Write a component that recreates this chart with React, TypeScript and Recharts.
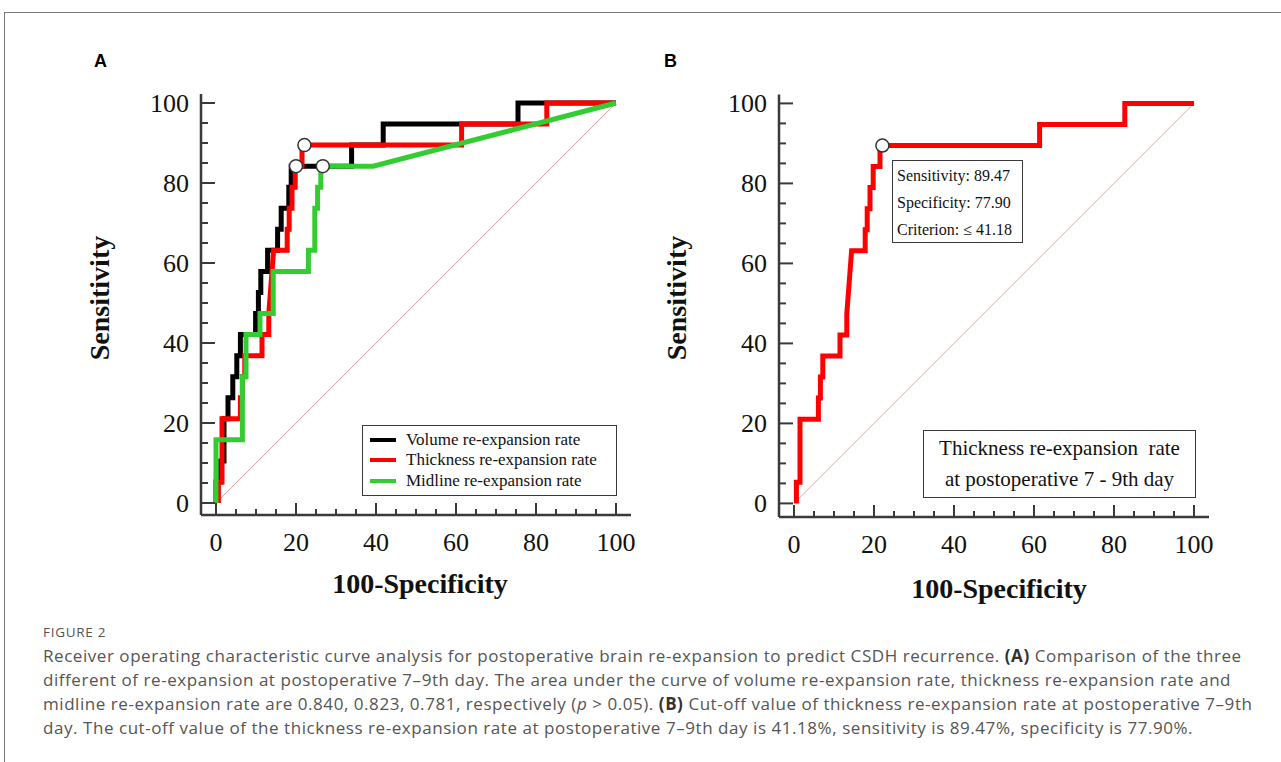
import { LineChart, Line, XAxis, YAxis, ReferenceLine, ReferenceDot, Legend } from 'recharts';

// ROC curves: [100-Specificity, Sensitivity]
const volumeCurve: [number, number][] = [
  [0, 0], [0, 5.26], [1.2, 5.26], [1.2, 10.53], [2.0, 10.53], [2.0, 21.05], [3.0, 21.05], [3.0, 26.32],
  [4.2, 26.32], [4.2, 31.58], [5.2, 31.58], [5.2, 36.84], [6.1, 36.84], [6.1, 42.11], [9.9, 42.11],
  [9.9, 47.37], [10.6, 47.37], [10.6, 52.63], [11.2, 52.63], [11.2, 57.89], [12.9, 57.89], [12.9, 63.16],
  [15.4, 63.16], [15.4, 68.42], [16.3, 68.42], [16.3, 73.68], [18.2, 73.68], [18.2, 78.95], [18.8, 78.95],
  [18.8, 84.21], [33.9, 84.21], [33.9, 89.47], [41.8, 89.47], [41.8, 94.74], [75.5, 94.74], [75.5, 100], [100, 100],
];

const thicknessCurve: [number, number][] = [
  [0.6, 0], [0.6, 5.26], [1.5, 5.26], [1.5, 21.05], [6.1, 21.05], [6.1, 26.32], [6.6, 26.32], [6.6, 31.58],
  [7.2, 31.58], [7.2, 36.84], [11.5, 36.84], [11.5, 42.11], [13.2, 42.11], [13.2, 47.37], [14.4, 63.16],
  [17.8, 63.16], [17.8, 68.42], [18.3, 68.42], [18.3, 73.68], [19.0, 73.68], [19.0, 78.95], [19.8, 78.95],
  [19.8, 84.21], [21.5, 84.21], [21.5, 89.47], [61.4, 89.47], [61.4, 94.74], [82.7, 94.74], [82.7, 100], [100, 100],
];

const midlineCurve: [number, number][] = [
  [0, 0], [0, 15.79], [6.6, 15.79], [6.6, 31.58], [7.5, 31.58], [7.5, 42.11], [11.0, 42.11], [11.0, 47.37],
  [14.3, 47.37], [14.3, 57.89], [23.1, 57.89], [23.1, 63.16], [24.7, 63.16], [24.7, 73.68], [25.4, 73.68],
  [25.4, 78.95], [26.2, 78.95], [26.2, 84.21], [39.3, 84.21], [100, 100],
];

// cut-off points (circles)
const cutoffsA = [
  { x: 20.0, y: 84.21 },
  { x: 22.1, y: 89.47 },
  { x: 26.7, y: 84.21 },
];
const cutoffB = { x: 22.1, y: 89.47 };

const seriesNames = ['Volume re-expansion rate', 'Thickness re-expansion rate', 'Midline re-expansion rate'];
const seriesColors = ['#000000', '#ff0000', '#33cc33'];

const axisTicks = [0, 5, 10, 15, 20, 25, 30, 35, 40, 45, 50, 55, 60, 65, 70, 75, 80, 85, 90, 95, 100];

const statsLines = ['Sensitivity: 89.47', 'Specificity: 77.90', 'Criterion: \u2264 41.18'];
const panelBNote = ['Thickness re-expansion\u00a0 rate', 'at postoperative 7 - 9th day'];

const captionLines = [
  [{ t: 'Receiver operating characteristic curve analysis for postoperative brain re-expansion to predict CSDH recurrence. ' }, { t: '(A)', b: true }, { t: ' Comparison of the three' }],
  [{ t: 'different of re-expansion at postoperative 7\u20139th day. The area under the curve of volume re-expansion rate, thickness re-expansion rate and' }],
  [{ t: 'midline re-expansion rate are 0.840, 0.823, 0.781, respectively (' }, { t: 'p', i: true }, { t: ' > 0.05). ' }, { t: '(B)', b: true }, { t: ' Cut-off value of thickness re-expansion rate at postoperative 7\u20139th' }],
  [{ t: 'day. The cut-off value of the thickness re-expansion rate at postoperative 7\u20139th day is 41.18%, sensitivity is 89.47%, specificity is 77.90%.' }],
];

const toPoints = (c: [number, number][]) => c.map(([x, y]) => ({ x, y }));

const AXIS = '#3a3a3a';
const SERIF = '"Liberation Serif", "Times New Roman", serif';

const YTick = (props: any) => {
  const { x, y, payload } = props;
  const major = payload.value % 20 === 0;
  return (
    <g>
      <line x1={x} y1={y} x2={x + (major ? 14 : 7)} y2={y} stroke={AXIS} strokeWidth={2} />
      {major && (
        <text x={x - 12} y={y + 9} textAnchor="end" fontFamily={SERIF} fontSize={26} fill="#111">
          {payload.value}
        </text>
      )}
    </g>
  );
};

const XTick = (props: any) => {
  const { x, y, payload } = props;
  const major = payload.value % 20 === 0;
  return (
    <g>
      <line x1={x} y1={y} x2={x} y2={y - (major ? 12 : 6)} stroke={AXIS} strokeWidth={2} />
      {major && (
        <text x={x} y={y + 36} textAnchor="middle" fontFamily={SERIF} fontSize={26} fill="#111">
          {payload.value}
        </text>
      )}
    </g>
  );
};

const renderLegend = () => (
  <div style={{ border: `1.5px solid ${AXIS}`, width: 255, height: 71, padding: '4px 0 0 0', boxSizing: 'border-box', background: '#fff' }}>
    {seriesNames.map((n, i) => (
      <div key={n} style={{ display: 'flex', alignItems: 'center', height: 20.3, fontFamily: SERIF, fontSize: 17, color: '#111' }}>
        <span style={{ display: 'inline-block', width: 26, height: 4, background: seriesColors[i], marginLeft: 7, marginRight: 10 }} />
        {n}
      </div>
    ))}
  </div>
);

const axisTitle: React.CSSProperties = {
  position: 'absolute', fontFamily: SERIF, fontWeight: 700, fontSize: 28, color: '#111', whiteSpace: 'nowrap',
};

function PanelA() {
  return (
    <LineChart width={640} height={620} margin={{ top: 94, left: 141, right: 9, bottom: 65 }}>
      <XAxis type="number" dataKey="x" domain={[-3.75, 103.75]} ticks={axisTicks} interval={0} allowDataOverflow
        tickSize={0} tickMargin={0} tickLine={false} tick={<XTick />} height={40}
        axisLine={{ stroke: AXIS, strokeWidth: 2.5 }} />
      <YAxis type="number" dataKey="y" domain={[-3, 102.25]} ticks={axisTicks} interval={0} allowDataOverflow
        tickSize={0} tickMargin={0} tickLine={false} tick={<YTick />} width={60}
        axisLine={{ stroke: AXIS, strokeWidth: 2.5 }} />
      <ReferenceLine segment={[{ x: 0, y: 0 }, { x: 100, y: 100 }]} stroke="#dca6a6" strokeWidth={1} />
      {[volumeCurve, thicknessCurve, midlineCurve].map((c, i) => (
        <Line key={seriesNames[i]} data={toPoints(c)} dataKey="y" name={seriesNames[i]} type="linear"
          stroke={seriesColors[i]} strokeWidth={5} strokeLinejoin="miter" dot={false} activeDot={false}
          isAnimationActive={false} />
      ))}
      {cutoffsA.map((p, i) => (
        <ReferenceDot key={i} x={p.x} y={p.y} r={6.5} fill="#fff" stroke="#333" strokeWidth={1.5} />
      ))}
      <Legend content={renderLegend} layout="vertical" align="center" verticalAlign="middle"
        wrapperStyle={{ left: 362, top: 425, width: 255, height: 71 }} />
    </LineChart>
  );
}

function PanelB() {
  return (
    <LineChart width={641} height={620} margin={{ top: 94.4, left: 79, right: 72, bottom: 63 }}>
      <XAxis type="number" dataKey="x" domain={[-3.75, 103.75]} ticks={axisTicks} interval={0} allowDataOverflow
        tickSize={0} tickMargin={0} tickLine={false} tick={<XTick />} height={40}
        axisLine={{ stroke: AXIS, strokeWidth: 2.5 }} />
      <YAxis type="number" dataKey="y" domain={[-3.4, 102.25]} ticks={axisTicks} interval={0} allowDataOverflow
        tickSize={0} tickMargin={0} tickLine={false} tick={<YTick />} width={60}
        axisLine={{ stroke: AXIS, strokeWidth: 2.5 }} />
      <ReferenceLine segment={[{ x: 0, y: 0 }, { x: 100, y: 100 }]} stroke="#dca6a6" strokeWidth={1} />
      <Line data={toPoints(thicknessCurve)} dataKey="y" name={seriesNames[1]} type="linear"
        stroke={seriesColors[1]} strokeWidth={5} strokeLinejoin="miter" dot={false} activeDot={false}
        isAnimationActive={false} />
      <ReferenceDot x={cutoffB.x} y={cutoffB.y} r={6.5} fill="#fff" stroke="#333" strokeWidth={1.5} />
    </LineChart>
  );
}

export default function App() {
  return (
    <div style={{ position: 'absolute', left: 0, top: 0, width: 1281, height: 762, background: '#fff', overflow: 'hidden' }}>
      <div style={{ position: 'absolute', left: 4, top: 12, right: 0, borderTop: '1px solid #7a7a7a' }} />
      <div style={{ position: 'absolute', left: 4, top: 12, bottom: 0, borderLeft: '1px solid #7a7a7a' }} />

      <div style={{ position: 'absolute', left: 0, top: 0 }}><PanelA /></div>
      <div style={{ position: 'absolute', left: 640, top: 0 }}><PanelB /></div>

      <div style={{ position: 'absolute', left: 94, top: 51, fontFamily: '"Liberation Sans", Arial, sans-serif', fontWeight: 700, fontSize: 18 }}>A</div>
      <div style={{ position: 'absolute', left: 664, top: 51, fontFamily: '"Liberation Sans", Arial, sans-serif', fontWeight: 700, fontSize: 18 }}>B</div>

      <div style={{ ...axisTitle, left: 100, top: 298, transform: 'translate(-50%, -50%) rotate(-90deg)' }}>Sensitivity</div>
      <div style={{ ...axisTitle, left: 677, top: 298, transform: 'translate(-50%, -50%) rotate(-90deg)' }}>Sensitivity</div>
      <div style={{ ...axisTitle, left: 420, top: 584, transform: 'translate(-50%, -50%)' }}>100-Specificity</div>
      <div style={{ ...axisTitle, left: 999, top: 589, transform: 'translate(-50%, -50%)' }}>100-Specificity</div>

      <div style={{ position: 'absolute', left: 892, top: 160, width: 131, height: 83, boxSizing: 'border-box', border: `1.2px solid ${AXIS}`, background: '#fff', fontFamily: SERIF, fontSize: 16, color: '#111', padding: '1px 0 0 4px' }}>
        {statsLines.map((s) => <div key={s} style={{ height: 27, lineHeight: '27px', whiteSpace: 'nowrap' }}>{s}</div>)}
      </div>

      <div style={{ position: 'absolute', left: 923, top: 430, width: 273, height: 68, boxSizing: 'border-box', border: `1.5px solid ${AXIS}`, background: '#fff', fontFamily: SERIF, fontSize: 21, color: '#111', textAlign: 'center', paddingTop: 2 }}>
        {panelBNote.map((s) => <div key={s} style={{ height: 31, lineHeight: '31px', whiteSpace: 'nowrap' }}>{s}</div>)}
      </div>

      <div style={{ position: 'absolute', left: 43, top: 623, fontFamily: '"Open Sans", "Noto Sans", sans-serif', fontSize: 13.5, color: '#555', letterSpacing: 0.7 }}>FIGURE 2</div>
      <div style={{ position: 'absolute', left: 43, top: 644, fontFamily: '"Open Sans", "Noto Sans", sans-serif', fontSize: 17, color: '#555', lineHeight: '24px', letterSpacing: 0.55 }}>
        {captionLines.map((line, li) => (
          <div key={li} style={{ whiteSpace: 'nowrap' }}>
            {line.map((seg: any, si) => (
              <span key={si} style={{ fontWeight: seg.b ? 700 : 400, fontStyle: seg.i ? 'italic' : 'normal', color: seg.b ? '#333' : undefined }}>{seg.t}</span>
            ))}
          </div>
        ))}
      </div>
    </div>
  );
}
